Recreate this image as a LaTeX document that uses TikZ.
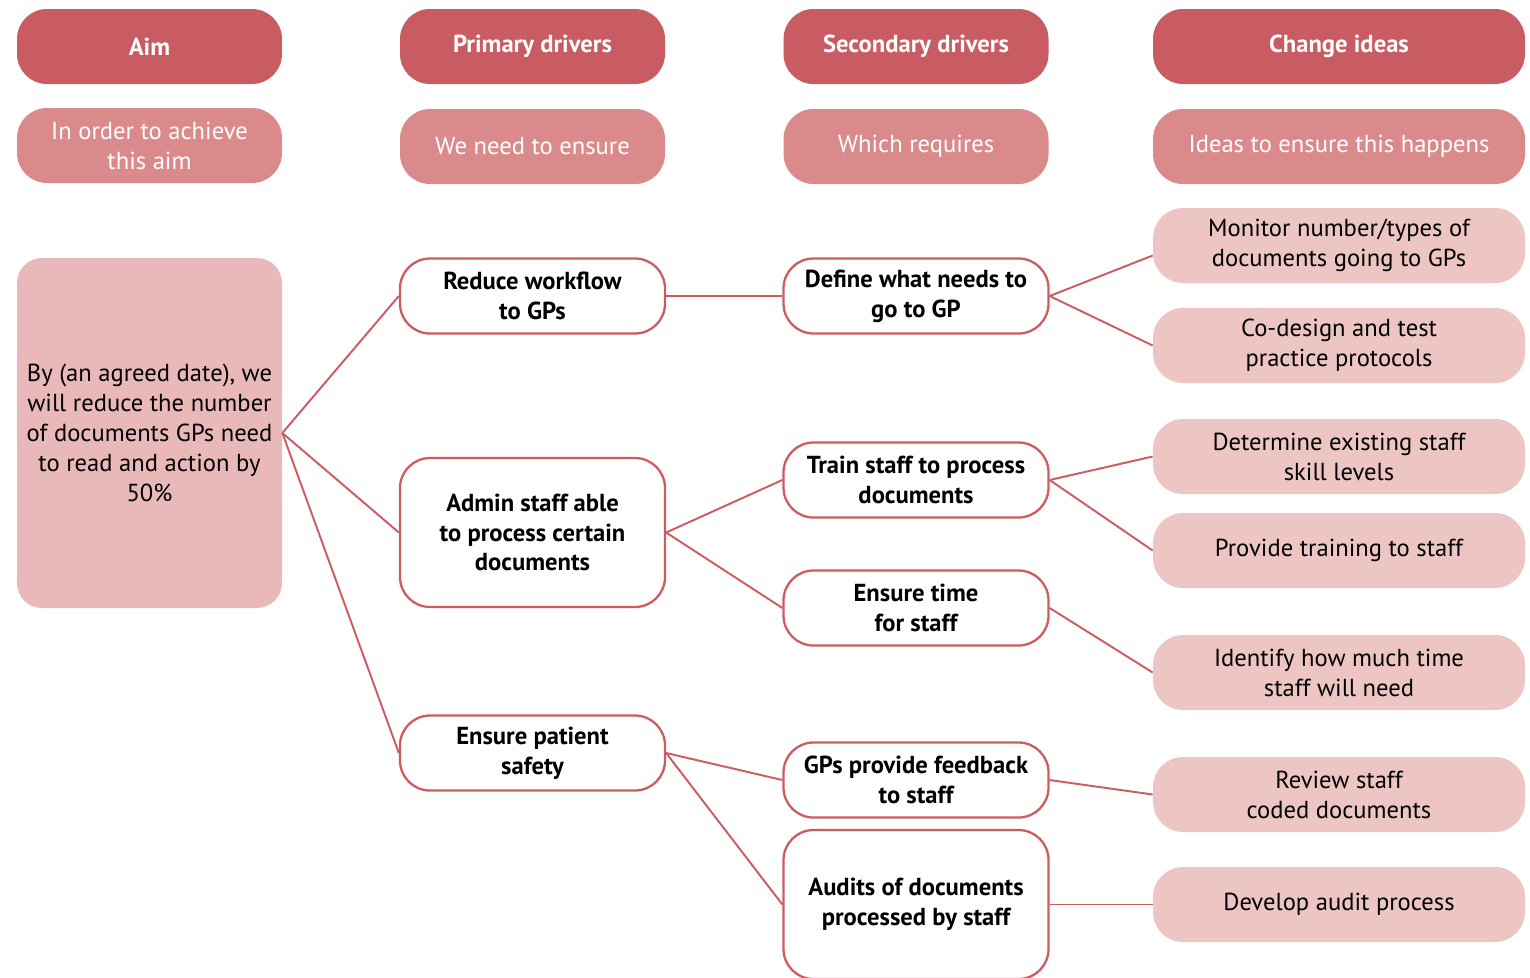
\documentclass[tikz,border=0pt]{standalone}
\usepackage{fontspec}
\setmainfont{PT Sans}
\usetikzlibrary{positioning}
\definecolor{headred}{HTML}{C95C62}
\definecolor{subred}{HTML}{DA8A8A}
\definecolor{aimpink}{HTML}{E9B8B8}
\definecolor{ideapink}{HTML}{EDC6C4}
\definecolor{linered}{HTML}{CC5C62}
\tikzstyle{head} = [rectangle,rounded corners=0.6cm,fill=headred,text=white,font=\bfseries\fontsize{14}{17}\selectfont,minimum width=5.3cm,minimum height=1.5cm,inner sep=0pt,align=center]
\tikzstyle{subhead} = [rectangle,rounded corners=0.6cm,fill=subred,text=white,font=\fontsize{14}{17}\selectfont,minimum width=5.3cm,minimum height=1.5cm,inner sep=0pt,align=center]
\tikzstyle{driver} = [rectangle,rounded corners=0.6cm,draw=linered,line width=1.3pt,fill=white,font=\bfseries\fontsize{14}{17}\selectfont,minimum width=5.3cm,minimum height=1.5cm,inner sep=0pt,align=center]
\tikzstyle{idea} = [rectangle,rounded corners=0.6cm,fill=ideapink,font=\fontsize{14}{17}\selectfont,minimum width=7.44cm,minimum height=1.5cm,inner sep=0pt,align=center]
\tikzstyle{link} = [draw=linered,line width=1.1pt]

\begin{document}
\begin{tikzpicture}
			\useasboundingbox (0,0) rectangle (30.6,-19.54);
			%Headers
			\node [head] (AimHead) at (2.99,-0.93) {Aim};
			\node [head] (PrimaryHead) at (10.65,-0.93) {Primary drivers};
			\node [head] (SecondaryHead) at (18.32,-0.93) {Secondary drivers};
			\node [head,minimum width=7.44cm] (ChangeHead) at (26.78,-0.93) {Change ideas};
			\node [subhead] (AimSub) at (2.99,-2.91) {In order to achieve\\this aim};
			\node [subhead] (PrimarySub) at (10.65,-2.93) {We need to ensure};
			\node [subhead] (SecondarySub) at (18.32,-2.93) {Which requires};
			\node [subhead,minimum width=7.44cm] (ChangeSub) at (26.78,-2.93) {Ideas to ensure this happens};
			
			%Aim
			\node [rectangle,rounded corners=0.5cm,fill=aimpink,minimum width=5.3cm,minimum height=7cm,inner sep=0pt,align=center,font=\fontsize{14}{17}\selectfont] (Aim) at (2.99,-8.66) {By (an agreed date), we\\will reduce the number\\of documents GPs need\\to read and action by\\50\%};
			
			%Primary drivers
			\node [driver] (Reduce) at (10.65,-5.92) {Reduce workflow\\to GPs};
			\node [driver,minimum height=2.98cm] (Admin) at (10.65,-10.65) {Admin staff able\\to process certain\\documents};
			\node [driver] (Safety) at (10.65,-15.06) {Ensure patient\\safety};
			
			%Secondary drivers
			\node [driver] (Define) at (18.32,-5.92) {Define what needs to\\go to GP};
			\node [driver] (Train) at (18.32,-9.60) {Train staff to process\\documents};
			\node [driver] (Time) at (18.32,-12.16) {Ensure time\\for staff};
			\node [driver] (Feedback) at (18.32,-15.60) {GPs provide feedback\\to staff};
			\node [driver,minimum height=2.98cm] (Audits) at (18.32,-18.09) {Audits of documents\\processed by staff};
			
			%Change ideas
			\node [idea] (Monitor) at (26.78,-4.91) {Monitor number/types of\\documents going to GPs};
			\node [idea] (Codesign) at (26.78,-6.91) {Co-design and test\\practice protocols};
			\node [idea] (Determine) at (26.78,-9.13) {Determine existing staff\\skill levels};
			\node [idea] (Training) at (26.78,-11.01) {Provide training to staff};
			\node [idea] (Identify) at (26.78,-13.45) {Identify how much time\\staff will need};
			\node [idea] (Review) at (26.78,-15.89) {Review staff\\coded documents};
			\node [idea] (Develop) at (26.78,-18.09) {Develop audit process};
			
			%Lines
			\draw[link] (Aim.east) -- (Reduce.west);
			\draw[link] (Aim.east) -- (Admin.west);
			\draw[link] (Aim.east) -- (Safety.west);
			\draw[link] (Reduce.east) -- (Define.west);
			\draw[link] (Admin.east) -- (Train.west);
			\draw[link] (Admin.east) -- (Time.west);
			\draw[link] (Safety.east) -- (Feedback.west);
			\draw[link] (Safety.east) -- (Audits.west);
			\draw[link] (Define.east) -- ([yshift=-0.2cm]Monitor.west);
			\draw[link] (Define.east) -- (Codesign.west);
			\draw[link] (Train.east) -- (Determine.west);
			\draw[link] (Train.east) -- (Training.west);
			\draw[link] (Time.east) -- (Identify.west);
			\draw[link] (Feedback.east) -- (Review.west);
			\draw[link] (Audits.east) -- (Develop.west);
		\end{tikzpicture}
\end{document}
